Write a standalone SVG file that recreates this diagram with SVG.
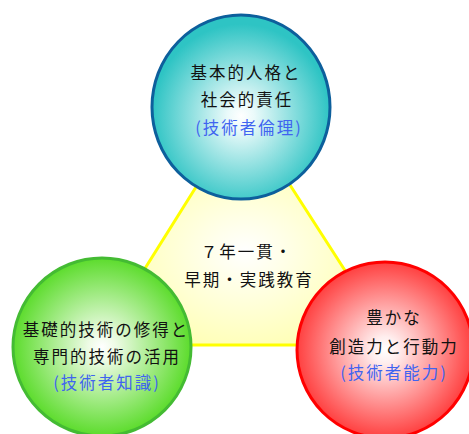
<svg xmlns="http://www.w3.org/2000/svg" width="469" height="434" viewBox="0 0 469 434">
<defs>
<radialGradient id="gY" cx="50%" cy="60%" r="60%">
<stop offset="0" stop-color="#ffffff"/>
<stop offset="1" stop-color="#ffff99"/>
</radialGradient>
<radialGradient id="gB" cx="50%" cy="55%" r="50%">
<stop offset="0" stop-color="#ffffff"/>
<stop offset="0.15" stop-color="#eafafa"/>
<stop offset="1" stop-color="#2ec4c4"/>
</radialGradient>
<radialGradient id="gG" cx="50%" cy="50%" r="50%">
<stop offset="0" stop-color="#ffffff"/>
<stop offset="0.15" stop-color="#eefbe6"/>
<stop offset="1" stop-color="#5cdc2c"/>
</radialGradient>
<radialGradient id="gR" cx="50%" cy="50%" r="50%">
<stop offset="0" stop-color="#ffffff"/>
<stop offset="0.15" stop-color="#ffeeee"/>
<stop offset="1" stop-color="#ff4040"/>
</radialGradient>
<style>
text{font-family:"Noto Sans CJK JP","Noto Sans CJK SC",sans-serif;font-size:16.5px;letter-spacing:2px;text-anchor:middle;fill:#111}
.b{fill:#3f64f0}
</style>
</defs>
<g id="center">
<polygon points="243,112 97,345 393,345" fill="url(#gY)" stroke="#ffff00" stroke-width="3" stroke-linejoin="round"/>
<text x="247" y="258">７年一貫・</text>
<text x="249" y="286">早期・実践教育</text>
</g>
<g id="connectors"></g>
<g id="ethics">
<ellipse cx="241" cy="107" rx="89" ry="92" fill="url(#gB)" stroke="#0d5f9c" stroke-width="3"/>
<text x="246" y="79">基本的人格と</text>
<text x="247" y="106">社会的責任</text>
<text class="b" x="249" y="134">(技術者倫理)</text>
</g>
<g id="knowledge">
<circle cx="102" cy="347" r="89" fill="url(#gG)" stroke="#44bb33" stroke-width="3"/>
<text x="106" y="336">基礎的技術の修得と</text>
<text x="107" y="363">専門的技術の活用</text>
<text class="b" x="107" y="389">(技術者知識)</text>
</g>
<g id="ability">
<circle cx="385" cy="350" r="88" fill="url(#gR)" stroke="#ff0000" stroke-width="3"/>
<text x="394" y="324">豊かな</text>
<text x="394" y="353">創造力と行動力</text>
<text class="b" x="394" y="379">(技術者能力)</text>
</g>
</svg>
